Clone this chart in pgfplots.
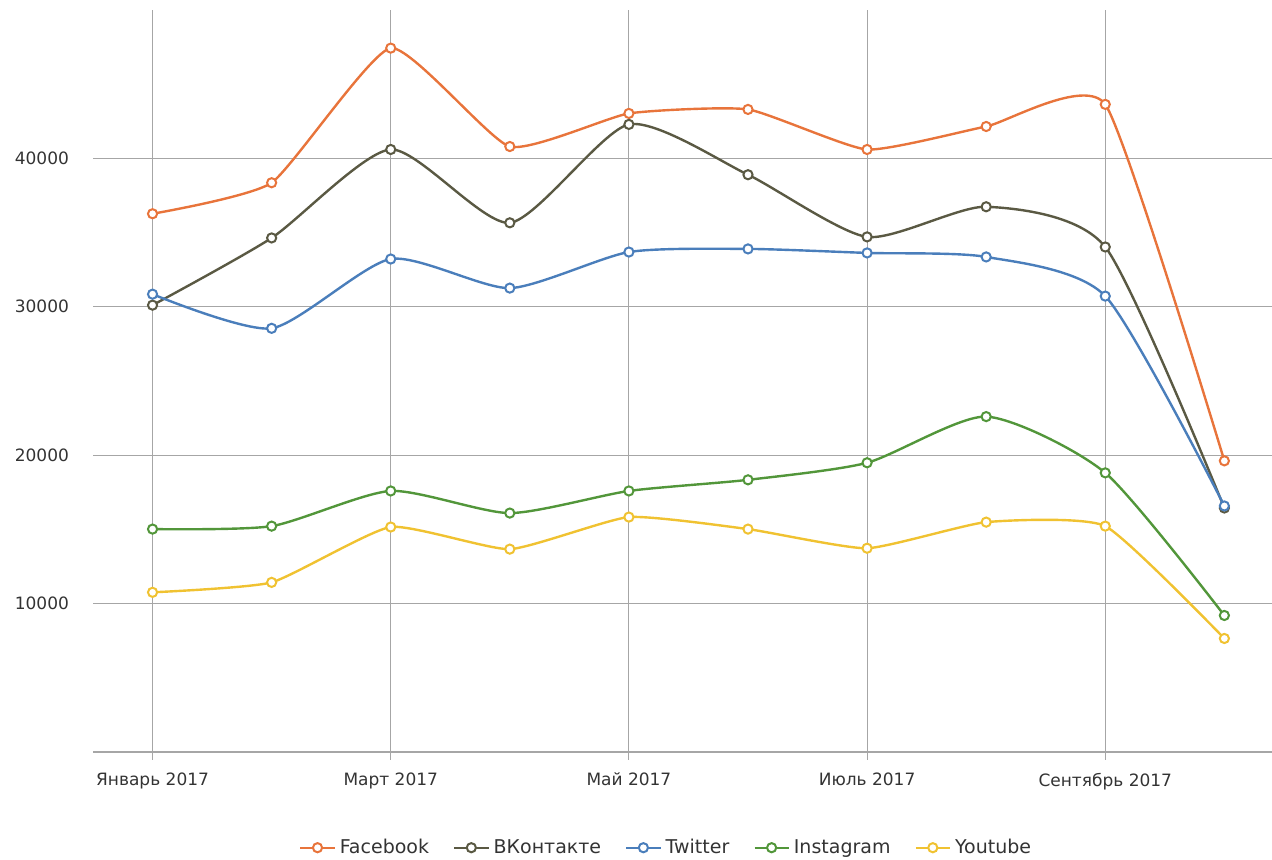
\documentclass[border=0pt]{standalone}
\usepackage{fontspec}
\setmainfont{DejaVu Sans}
\usepackage{pgfplots}
\pgfplotsset{compat=1.18}
\definecolor{cfb}{HTML}{E8743B}
\definecolor{cvk}{HTML}{5A5943}
\definecolor{ctw}{HTML}{4A7EBB}
\definecolor{cig}{HTML}{52963A}
\definecolor{cyt}{HTML}{F0C231}
\definecolor{cgrid}{HTML}{A6A6A6}
\definecolor{ctext}{HTML}{333333}
\begin{document}
\begin{tikzpicture}
\useasboundingbox (0,0) rectangle (636pt,430pt);
\begin{axis}[
  at={(46.5pt,54pt)}, anchor=south west,
  scale only axis, width=589.5pt, height=371pt,
  xmin=-0.5, xmax=9.4, ymin=0, ymax=50000,
  clip=false,
  axis x line*=bottom, axis y line*=left,
  x axis line style={draw=cgrid, line width=0.6pt, -},
  y axis line style={draw=none},
  xtick={0,2,4,6,8},
  xticklabels={Январь 2017, Март 2017, Май 2017, Июль 2017, Сентябрь 2017},
  ytick={10000,20000,30000,40000},
  scaled y ticks=false,
  yticklabel style={/pgf/number format/1000 sep={}, xshift=-4.5pt},
  /pgf/number format/assume math mode=true,
  ticklabel style={font=\fontsize{8.5}{10}\selectfont, text=ctext},
  xticklabel style={yshift=-3pt},
  xtick style={draw=cgrid, line width=0.5pt},
  ytick style={draw=none},
  major tick length=4pt,
  tick align=outside,
  xmajorgrids, ymajorgrids,
  grid style={draw=cgrid, line width=0.5pt},
  every axis plot/.append style={smooth, tension=0.4, line width=1.2pt, mark=*, mark size=2.3pt,
    mark options={fill=white, line width=1pt}},
  legend style={at={(0.487,-0.129)}, anchor=center, draw=none, fill=none,
    font=\fontsize{9.5}{11}\selectfont, text=ctext,
    /tikz/every even column/.append style={column sep=10pt}},
  legend columns=-1,
]
\addplot[cfb, tension=0.3] coordinates {(0,36270) (1,38360) (2,47430) (3,40800) (4,43030) (5,43300) (6,40600) (7,42150) (8,43640) (9,19620)};
\addplot[cvk] coordinates {(0,30110) (1,34640) (2,40600) (3,35660) (4,42290) (5,38900) (6,34710) (7,36740) (8,34030) (9,16440)};
\addplot[ctw] coordinates {(0,30850) (1,28550) (2,33220) (3,31260) (4,33690) (5,33900) (6,33630) (7,33360) (8,30720) (9,16580)};
\addplot[cig] coordinates {(0,15020) (1,15220) (2,17590) (3,16100) (4,17590) (5,18340) (6,19490) (7,22600) (8,18810) (9,9200)};
\addplot[cyt, tension=0.3] coordinates {(0,10760) (1,11430) (2,15160) (3,13670) (4,15830) (5,15020) (6,13730) (7,15490) (8,15220) (9,7650)};
\legend{Facebook, ВКонтакте, Twitter, Instagram, Youtube}
\end{axis}
\end{tikzpicture}
\end{document}
